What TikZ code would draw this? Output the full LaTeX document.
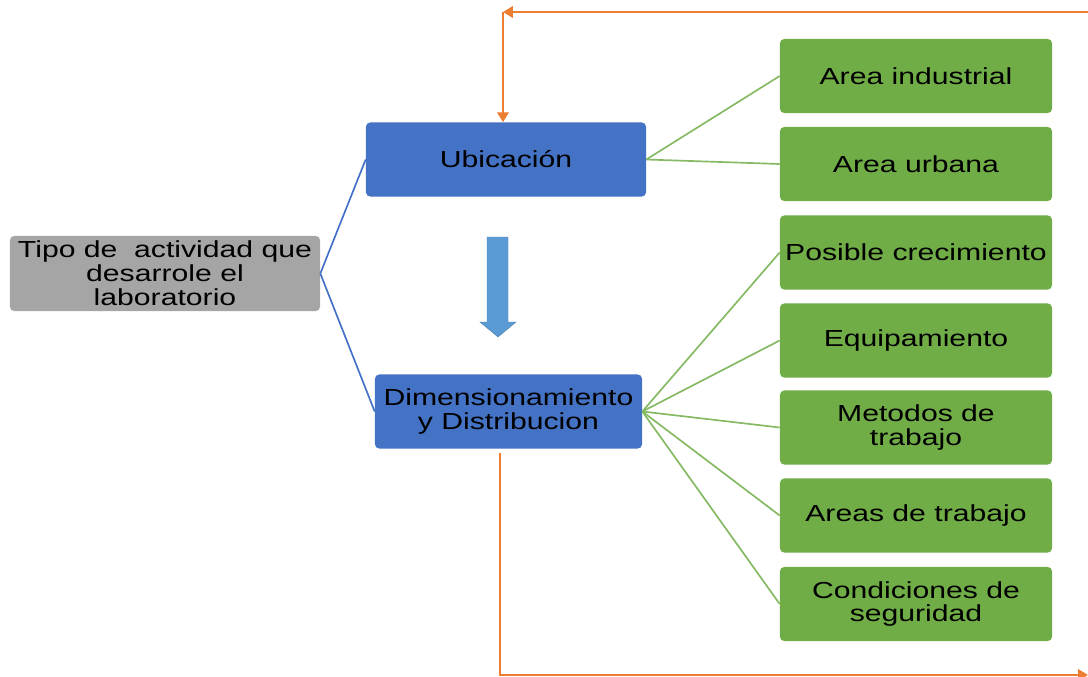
\documentclass[tikz,border=0pt]{standalone}
\usepackage{fontspec}
\setmainfont{Liberation Sans}[FakeStretch=1.3]
\usetikzlibrary{arrows.meta}
\definecolor{boxblue}{HTML}{4472C4}
\definecolor{boxgreen}{HTML}{70AD47}
\definecolor{boxgray}{HTML}{A5A5A5}
\definecolor{looporange}{HTML}{ED7D31}
\definecolor{arrowblue}{HTML}{5B9BD5}
\tikzset{
  box/.style={rectangle, rounded corners=3pt, align=center, inner sep=0.5mm, text=black,
              font=\fontsize{16.5}{17}\selectfont},
  startbox/.style={box, fill=boxgray, minimum width=7.75cm, minimum height=1.875cm},
  mainbox/.style={box, fill=boxblue, minimum height=1.85cm},
  subbox/.style={box, fill=boxgreen, minimum width=6.8cm, minimum height=1.85cm},
  blueline/.style={draw=boxblue, line width=1.2pt},
  greenline/.style={draw=boxgreen!85!white, line width=1.2pt},
  loopline/.style={draw=looporange, line width=2pt, -{Triangle[width=8pt,length=7pt]}},
}

\begin{document}
\begin{tikzpicture}[x=0.025cm, y=-0.025cm]
\useasboundingbox (0,0) rectangle (1088,677);

%% left and middle boxes
\node[startbox] (tipo) at (165,273.5) {Tipo de~ actividad que\\desarrole el\\laboratorio};
\node[mainbox, minimum width=7cm]     (ubic) at (506,159.5) {Ubicación};
\node[mainbox, minimum width=6.675cm] (dim)  at (508.5,411.5) {Dimensionamiento\\y Distribucion};

\draw[blueline] (tipo.east) -- (ubic.west);
\draw[blueline] (tipo.east) -- (dim.west);

%% right boxes
\foreach \Name/\Y/\Text in {%
     ind/76/Area industrial,
     urb/164/Area urbana,
     pos/252.5/Posible crecimiento,
     equ/340.5/Equipamiento,
     met/427.5/Metodos de\\trabajo,
     are/515.5/Areas de trabajo,
     con/604/Condiciones de\\seguridad
    }{
  \node[subbox] (\Name) at (916,\Y) {\Text};
}
\foreach \Name in {ind,urb}
  \draw[greenline] (ubic.east) -- (\Name.west);
\foreach \Name in {pos,equ,met,are,con}
  \draw[greenline] (dim.east) -- (\Name.west);

%% block arrow between the blue boxes
\fill[arrowblue, draw=arrowblue!80!black, line width=0.3pt]
  (487,237) -- (508,237) -- (508,322) -- (516,322) -- (498,337)
            -- (480,322) -- (487,322) -- cycle;

%% orange loop
\coordinate (topR) at (1088,12);
\coordinate (topL) at (503,12);
\coordinate (botL) at (500,675);
\coordinate (botR) at (1088,675);
\draw[loopline] (topR) -- (topL);
\draw[loopline] (topL) -- (topL |- ubic.north);
\draw[loopline] ([yshift=-3pt] botL |- dim.south) -- (botL) -- (botR);
\end{tikzpicture}
\end{document}
